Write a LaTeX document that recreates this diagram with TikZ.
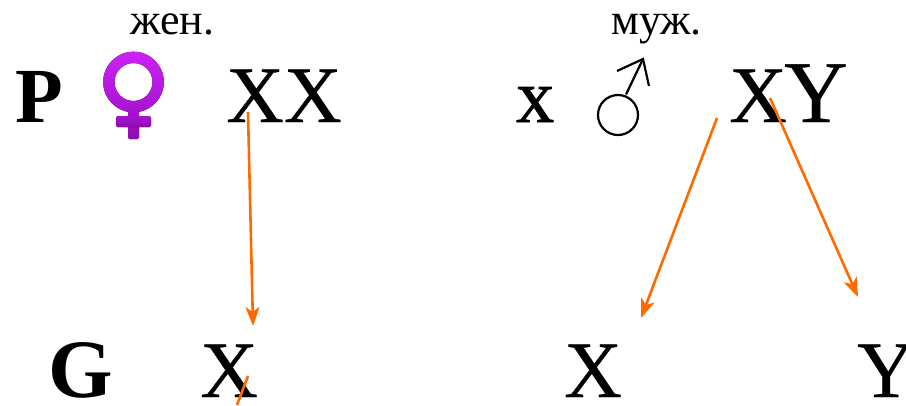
\documentclass[tikz,border=0pt]{standalone}
\usepackage{fontspec}
\setmainfont{Liberation Serif}
\newfontfamily\heavyserif[FakeBold=0.35]{Liberation Serif}
\newfontfamily\crossserif[FakeBold=1]{Liberation Serif}
\usetikzlibrary{arrows.meta}
\definecolor{arrowor}{HTML}{FF6A00}
\definecolor{femtop}{HTML}{CC22F5}
\definecolor{femmid}{HTML}{A813D2}
\definecolor{fembot}{HTML}{8E0BAE}
\tikzset{
  big/.style={inner sep=0pt,anchor=base west,font=\fontsize{80}{80}\selectfont\heavyserif},
  bigy/.style={inner sep=0pt,anchor=base west,font=\fontsize{88}{88}\selectfont\heavyserif},
  bigx/.style={inner sep=0pt,anchor=base west,font=\fontsize{76}{76}\selectfont\crossserif},
  bigb/.style={inner sep=0pt,anchor=base west,font=\fontsize{78}{78}\selectfont\bfseries},
  bigg/.style={inner sep=0pt,anchor=base west,font=\fontsize{83}{83}\selectfont\bfseries},
  captext/.style={inner sep=0pt,anchor=base west,font=\fontsize{44}{44}\selectfont},
  geneline/.style={draw=arrowor,line width=2.6pt,-{Stealth[length=19pt,width=14pt,inset=5pt]}},
  malesign/.style={draw=black,line width=2.2pt}
}
\begin{document}
\begin{tikzpicture}[x=1pt,y=-1pt]
\useasboundingbox (0,0) rectangle (906,405);
% texts
\node[captext] (fem) at (130,34) {жен.};
\node[captext] (mal) at (611,34) {муж.};
\node[bigb] (p) at (15,122) {P};
\node[big] (xx) at (226,122) {XX};
\node[bigx] (cross) at (516,122) {x};
\node[big] (xm) at (729,122) {X};
\node[bigy] (ym) at (784,122) {Y};
\node[bigg] (g) at (48,397) {G};
\node[big] (gx) at (200,397) {X};
\node[big] (gx2) at (564,397) {X};
\node[big] (gy) at (857,397) {Y};
% female sign
\fill[top color=femtop,bottom color=femmid,even odd rule]
  (133.5,82) circle (30.3) (133.5,82) circle (19);
\fill[top color=femmid,bottom color=fembot,rounded corners=1.5pt] (128,110) rectangle (139,139);
\fill[top color=femmid,bottom color=fembot,rounded corners=1.5pt] (116,116) rectangle (151,127);
% male sign
\node[circle,malesign,minimum size=40pt,inner sep=0pt] (mc) at (618,115) {};
\coordinate (mtip) at (643,59);
\coordinate (mstem) at (626,94.5);
\coordinate (mb1) at (617,71);
\coordinate (mb2) at (649,86);
\draw[malesign] (mstem) -- (mtip);
\draw[malesign] (mb1) -- (mtip) -- (mb2);
% arrows
\coordinate (a1) at (248,112);
\coordinate (a1e) at (253,326);
\coordinate (a2) at (717,118);
\coordinate (a2e) at (641,318);
\coordinate (a3) at (770,98);
\coordinate (a3e) at (858,297);
\coordinate (s1) at (248,376);
\coordinate (s2) at (237,405);
\draw[geneline] (a1) -- (a1e);
\draw[geneline] (a2) -- (a2e);
\draw[geneline] (a3) -- (a3e);
\draw[draw=arrowor,line width=2.6pt] (s1) -- (s2);
\end{tikzpicture}
\end{document}
